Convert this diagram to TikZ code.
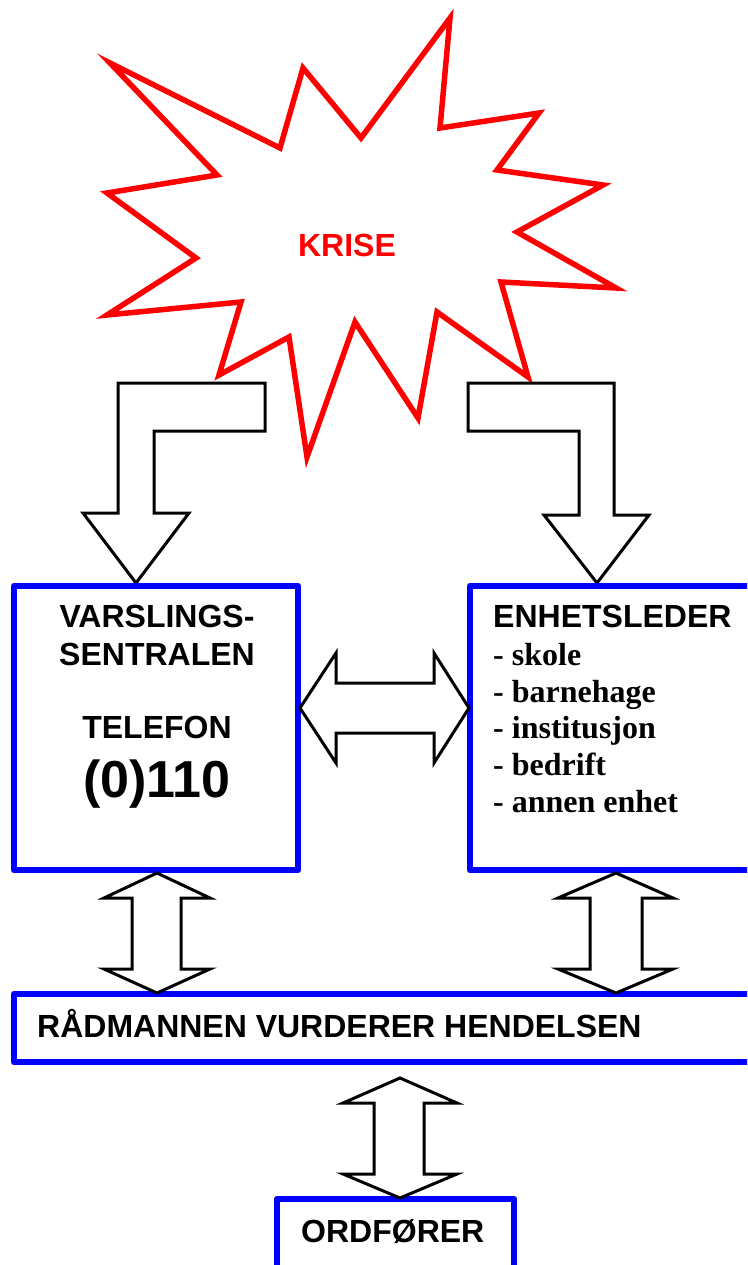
\documentclass[tikz,border=0pt]{standalone}
\usepackage{fontspec}
\setmainfont{Liberation Serif}
\setsansfont{Liberation Sans}
\definecolor{boxblue}{RGB}{0,0,255}
\definecolor{krisered}{RGB}{255,0,0}
\begin{document}
\begin{tikzpicture}[x=1pt,y=-1pt,
  bluebox/.style={draw=boxblue, line width=6.5pt, line join=round, fill=white, inner sep=0pt, outer sep=0pt},
  blockarrow/.style={draw=black, line width=3pt, fill=white, line join=miter},
  starline/.style={draw=krisered, line width=5.5pt, line join=miter, fill=white},
  sanslabel/.style={font=\sffamily\bfseries\fontsize{32}{32}\selectfont, inner sep=0pt},
  biglabel/.style={font=\sffamily\bfseries\fontsize{52}{52}\selectfont, inner sep=0pt},
  seriflabel/.style={font=\rmfamily\bfseries\fontsize{32}{32}\selectfont, inner sep=0pt}]
\clip (0,0) rectangle (747,1265);
\fill[white] (0,0) rectangle (747,1265);

% star
\draw[starline] (110,63) -- (280,148) -- (303,68) -- (361,138) -- (450,18) -- (440,128)
  -- (539,113) -- (497,170) -- (603,185) -- (517,232) -- (616,288) -- (501,282)
  -- (528,377) -- (437,312) -- (418,418) -- (355,322) -- (307,457) -- (289,337)
  -- (219,375) -- (241,302) -- (107,315) -- (196,258) -- (107,193) -- (217,175) -- cycle;
\node[font=\sffamily\bfseries\fontsize{32}{32}\selectfont, text=krisered, inner sep=0pt, anchor=base] (krise) at (347,256) {KRISE};

% bent arrows
\draw[blockarrow] (118,513) -- (118,383) -- (265,383) -- (265,431) -- (154,431) -- (154,513)
  -- (189,513) -- (136,583) -- (83,513) -- cycle;
\draw[blockarrow] (468,383) -- (614,383) -- (614,515) -- (649,515) -- (597,583) -- (544,515)
  -- (579,515) -- (579,431) -- (468,431) -- cycle;

% boxes
\node[bluebox, anchor=north west, minimum width=284pt, minimum height=284pt] (vars) at (14,586) {};
\node[bluebox, anchor=north west, minimum width=300pt, minimum height=284pt] (enhet) at (470,586) {};
\node[bluebox, anchor=north west, minimum width=760pt, minimum height=68pt] (radm) at (14,994) {};
\node[bluebox, anchor=north west, minimum width=237pt, minimum height=100pt] (ordf) at (277,1199) {};

% double arrows
\draw[blockarrow] (300,708) -- (336,653) -- (336,683) -- (434,683) -- (434,653) -- (469,708)
  -- (434,763) -- (434,733) -- (336,733) -- (336,763) -- cycle;
\draw[blockarrow] (157,873) -- (210,898) -- (181,898) -- (181,969) -- (210,969) -- (157,993)
  -- (104,969) -- (132,969) -- (132,898) -- (104,898) -- cycle;
\draw[blockarrow] (616,873) -- (673,898) -- (642,898) -- (642,969) -- (673,969) -- (616,993)
  -- (558,969) -- (590,969) -- (590,898) -- (558,898) -- cycle;
\draw[blockarrow] (400,1078) -- (457,1103) -- (424,1103) -- (424,1174) -- (457,1174) -- (400,1198)
  -- (343,1174) -- (374,1174) -- (374,1103) -- (343,1103) -- cycle;

% texts
\node[sanslabel, anchor=base] (v1) at (157,627) {VARSLINGS-};
\node[sanslabel, anchor=base] (v2) at (157,665) {SENTRALEN};
\node[sanslabel, anchor=base] (v3) at (157,738) {TELEFON};
\node[biglabel, anchor=base] (v4) at (157,797) {(0)110};

\node[sanslabel, anchor=base west] (e0) at (493,627) {ENHETSLEDER};
\node[seriflabel, anchor=base west] (e1) at (493,665) {- skole};
\node[seriflabel, anchor=base west] (e2) at (493,702) {- barnehage};
\node[seriflabel, anchor=base west] (e3) at (493,738) {- institusjon};
\node[seriflabel, anchor=base west] (e4) at (493,775) {- bedrift};
\node[seriflabel, anchor=base west] (e5) at (493,812) {- annen enhet};

\node[sanslabel, anchor=base west] (rt) at (37,1037) {RÅDMANNEN VURDERER HENDELSEN};
\node[sanslabel, anchor=base west] (ot) at (301,1242) {ORDFØRER};
\end{tikzpicture}
\end{document}
